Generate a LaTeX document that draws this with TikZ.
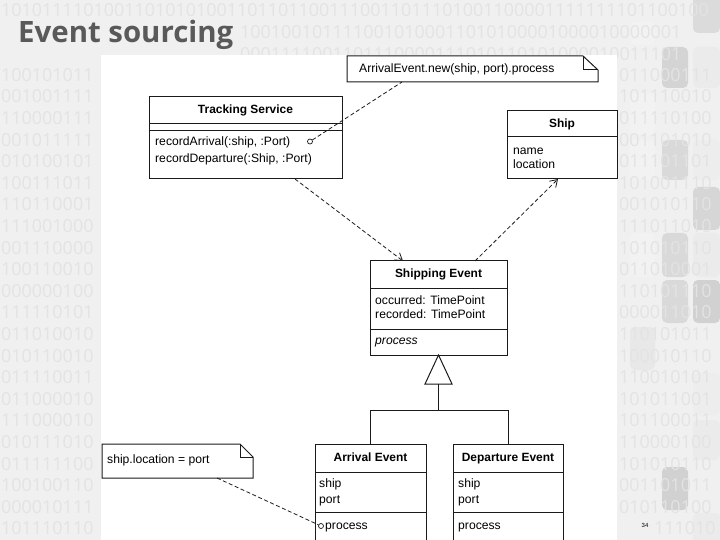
\documentclass[tikz,border=0pt]{standalone}
\usepackage{fontspec}
\setmainfont{Liberation Sans}
\newfontfamily\titlefont{Open Sans}
\newfontfamily\digitfont{Open Sans}
\usetikzlibrary{arrows.meta}
\definecolor{bgc}{HTML}{F0F0F0}
\definecolor{digc}{HTML}{E3E3E3}
\definecolor{titlegray}{HTML}{595959}
\definecolor{linec}{HTML}{1A1A1A}
\begin{document}
\begin{tikzpicture}[x=1bp,y=-1bp,
  box/.style={draw=linec, line width=1bp, fill=white, inner sep=0, outer sep=0, anchor=north west},
  notebox/.style={draw=linec, line width=1bp, fill=white},
  hidden/.style={inner sep=0, outer sep=0, anchor=north west},
  txt/.style={font=\fontsize{12.2}{14}\selectfont, inner sep=0, anchor=base west},
  itxt/.style={font=\itshape\fontsize{12.2}{14}\selectfont, inner sep=0, anchor=base west},
  ttl/.style={font=\bfseries\fontsize{12}{14}\selectfont, inner sep=0, anchor=base},
  dep/.style={draw=linec, dash pattern=on 4bp off 2.5bp, line width=0.8bp},
  tip/.style={-{Straight Barb[length=7bp,width=9bp,line width=0.8bp]}},
  gen/.style={draw=linec, line width=1bp},
  ball/.style={circle, draw=linec, fill=white, inner sep=0, minimum size=5bp, line width=0.7bp},
  digit/.style={font=\digitfont\fontsize{18}{20}\selectfont, text=digc, inner sep=0, anchor=west},
  deco/.style={rounded corners=5bp}
]
\useasboundingbox (0,0) rectangle (720,540);
\clip (0,0) rectangle (720,540);
\fill[bgc] (0,0) rectangle (720,540);

% right-side decoration
\foreach \a/\b/\c/\d/\g in {
630/-5/655/22/6, 693/-5/720/33/14, 630/22/655/45/5,
662/47/688/88/17, 693/47/720/88/8, 630/93/655/135/5, 662/93/688/135/6,
630/140/655/180/5, 662/140/688/180/15, 693/140/720/180/7,
693/187/720/230/16, 630/233/655/277/5, 662/233/688/277/15, 693/233/720/277/8,
662/280/688/323/15, 693/280/720/323/18, 630/327/655/370/9, 662/327/688/370/6,
693/373/720/415/7, 630/420/655/460/6, 693/420/720/460/8,
662/467/688/510/18, 630/513/655/545/6, 693/513/720/545/8}
{\fill[deco, black!\g] (\a,\b) rectangle (\c,\d);}

% binary background: top rows
\node[digit] (bin0) at (1,10) {101011110100110101010011011011001110011011101001100001111111101100100};
\node[digit] (bin1) at (240,32.5) {1001001011110010100011010100001000010000001};
\node[digit] (bin2) at (240,54) {0001111001101110000111010110101000010011101};
% binary background: side rows
\foreach \l/\r [count=\i from 3] in {
100101011/011000111, 001001111/101110010, 110000111/011110100,
001011111/001101010, 010100101/011101101, 100111011/101001110,
110110001/001010110, 111001000/111011010, 001110000/101010110,
100110010/011010001, 000000100/110101110, 111110101/000011010,
011010010/110101011, 010110010/100010110, 011110011/110010101,
011000010/101011001, 111000010/101100011, 010111010/110000100,
011111100/101010110, 100100110/001101011, 000010111/010110100}
{\node[digit] (binl\i) at (1,{10+21.6*\i}) {\l};
 \node[digit] (binr\i) at (619,{10+21.6*\i}) {\r};}
\node[digit] (binl24) at (1,528.4) {101110110};
\node[digit] (binr24) at (654,528.4) {111010};

% white panel
\fill[white] (101,55) rectangle (617,545);

% title
\node[anchor=base west, inner sep=0, text=titlegray,
      font=\titlefont\bfseries\fontsize{29.5}{31}\selectfont] (title) at (18,43) {Event sourcing};

% page number
\node[inner sep=0, font=\fontsize{6}{7}\selectfont] (pnum) at (645,525) {34};

% ---------- note top
\node[hidden, minimum width=251bp, minimum height=26bp] (nt) at (347,56) {};
\draw[notebox] (nt.north west) -- ([xshift=-15bp]nt.north east) -- ([yshift=-14bp]nt.north east)
  -- (nt.south east) -- (nt.south west) -- cycle;
\draw[notebox, fill=none] ([xshift=-15bp]nt.north east) |- ([yshift=-14bp]nt.north east);
\node[txt] (ntt) at (359,73) {ArrivalEvent.new(ship, port).process};

% ---------- Tracking Service
\node[box, minimum width=193bp, minimum height=82bp] (ts) at (149,97) {};
\draw[gen] (ts.west |- 0,123.3) -- (ts.east |- 0,123.3);
\draw[gen] (ts.west |- 0,130.7) -- (ts.east |- 0,130.7);
\node[ttl] (tst) at (245.5,114) {Tracking Service};
\node[txt] (tsm1) at (155,146) {recordArrival(:ship, :Port)};
\node[txt] (tsm2) at (155,162.5) {recordDeparture(:Ship, :Port)};
\node[ball] (c1) at (310,141.5) {};

% ---------- Ship
\node[box, minimum width=110bp, minimum height=68bp] (ship) at (507,111) {};
\draw[gen] (ship.west |- 0,137) -- (ship.east |- 0,137);
\node[ttl] (shipt) at (562,127.5) {Ship};
\node[txt] (shipa1) at (513,154.5) {name};
\node[txt] (shipa2) at (513,168.5) {location};

% ---------- Shipping Event
\node[box, minimum width=137bp, minimum height=94bp] (se) at (370,261) {};
\draw[gen] (se.west |- 0,288) -- (se.east |- 0,288);
\draw[gen] (se.west |- 0,329) -- (se.east |- 0,329);
\node[ttl] (set) at (438.5,277.5) {Shipping Event};
\node[txt] (sea1) at (375,304) {occurred: TimePoint};
\node[txt] (sea2) at (375,318.5) {recorded: TimePoint};
\node[itxt] (seop) at (375,344.5) {process};

% ---------- Arrival Event
\node[box, minimum width=111bp, minimum height=101bp] (ae) at (315,444) {};
\draw[gen] (ae.west |- 0,472) -- (ae.east |- 0,472);
\draw[gen] (ae.west |- 0,512) -- (ae.east |- 0,512);
\node[ttl] (aet) at (370.5,461) {Arrival Event};
\node[txt] (aea1) at (319,487.5) {ship};
\node[txt] (aea2) at (319,503) {port};
\node[ball] (c2) at (321,526) {};
\node[txt] (aeop) at (325,529) {process};

% ---------- Departure Event
\node[box, minimum width=110bp, minimum height=101bp] (de) at (453,444) {};
\draw[gen] (de.west |- 0,472) -- (de.east |- 0,472);
\draw[gen] (de.west |- 0,512) -- (de.east |- 0,512);
\node[ttl] (det) at (508,461) {Departure Event};
\node[txt] (dea1) at (458,487.5) {ship};
\node[txt] (dea2) at (458,503) {port};
\node[txt] (deop) at (458,529) {process};

% ---------- note bottom
\node[hidden, minimum width=151bp, minimum height=34bp] (nb) at (102,444) {};
\draw[notebox] (nb.north west) -- ([xshift=-13bp]nb.north east) -- ([yshift=-13bp]nb.north east)
  -- (nb.south east) -- (nb.south west) -- cycle;
\draw[notebox, fill=none] ([xshift=-13bp]nb.north east) |- ([yshift=-13bp]nb.north east);
\node[txt] (nbt) at (107,463.5) {ship.location = port};

% ---------- connectors
\draw[dep] (c1) -- ([xshift=55bp]nt.south west);
\draw[dep] ([xshift=115bp]nb.south west) -- (c2);
\draw[dep, tip] ([xshift=146bp]ts.south west) -- ([xshift=33bp]se.north west);
\draw[dep, tip] ([xshift=105bp]se.north west) -- ([xshift=51bp]ship.south west);

% generalization
\coordinate (tb) at ([yshift=-29bp]se.south);
\coordinate (jn) at ([yshift=-55bp]se.south);
\draw[gen, fill=white] (se.south) -- ([xshift=-13.5bp]tb) -- ([xshift=13.5bp]tb) -- cycle;
\draw[gen] (tb) -- (jn);
\draw[gen] (ae.north |- jn) -- (de.north |- jn);
\draw[gen] (ae.north |- jn) -- (ae.north);
\draw[gen] (de.north |- jn) -- (de.north);
\end{tikzpicture}
\end{document}
